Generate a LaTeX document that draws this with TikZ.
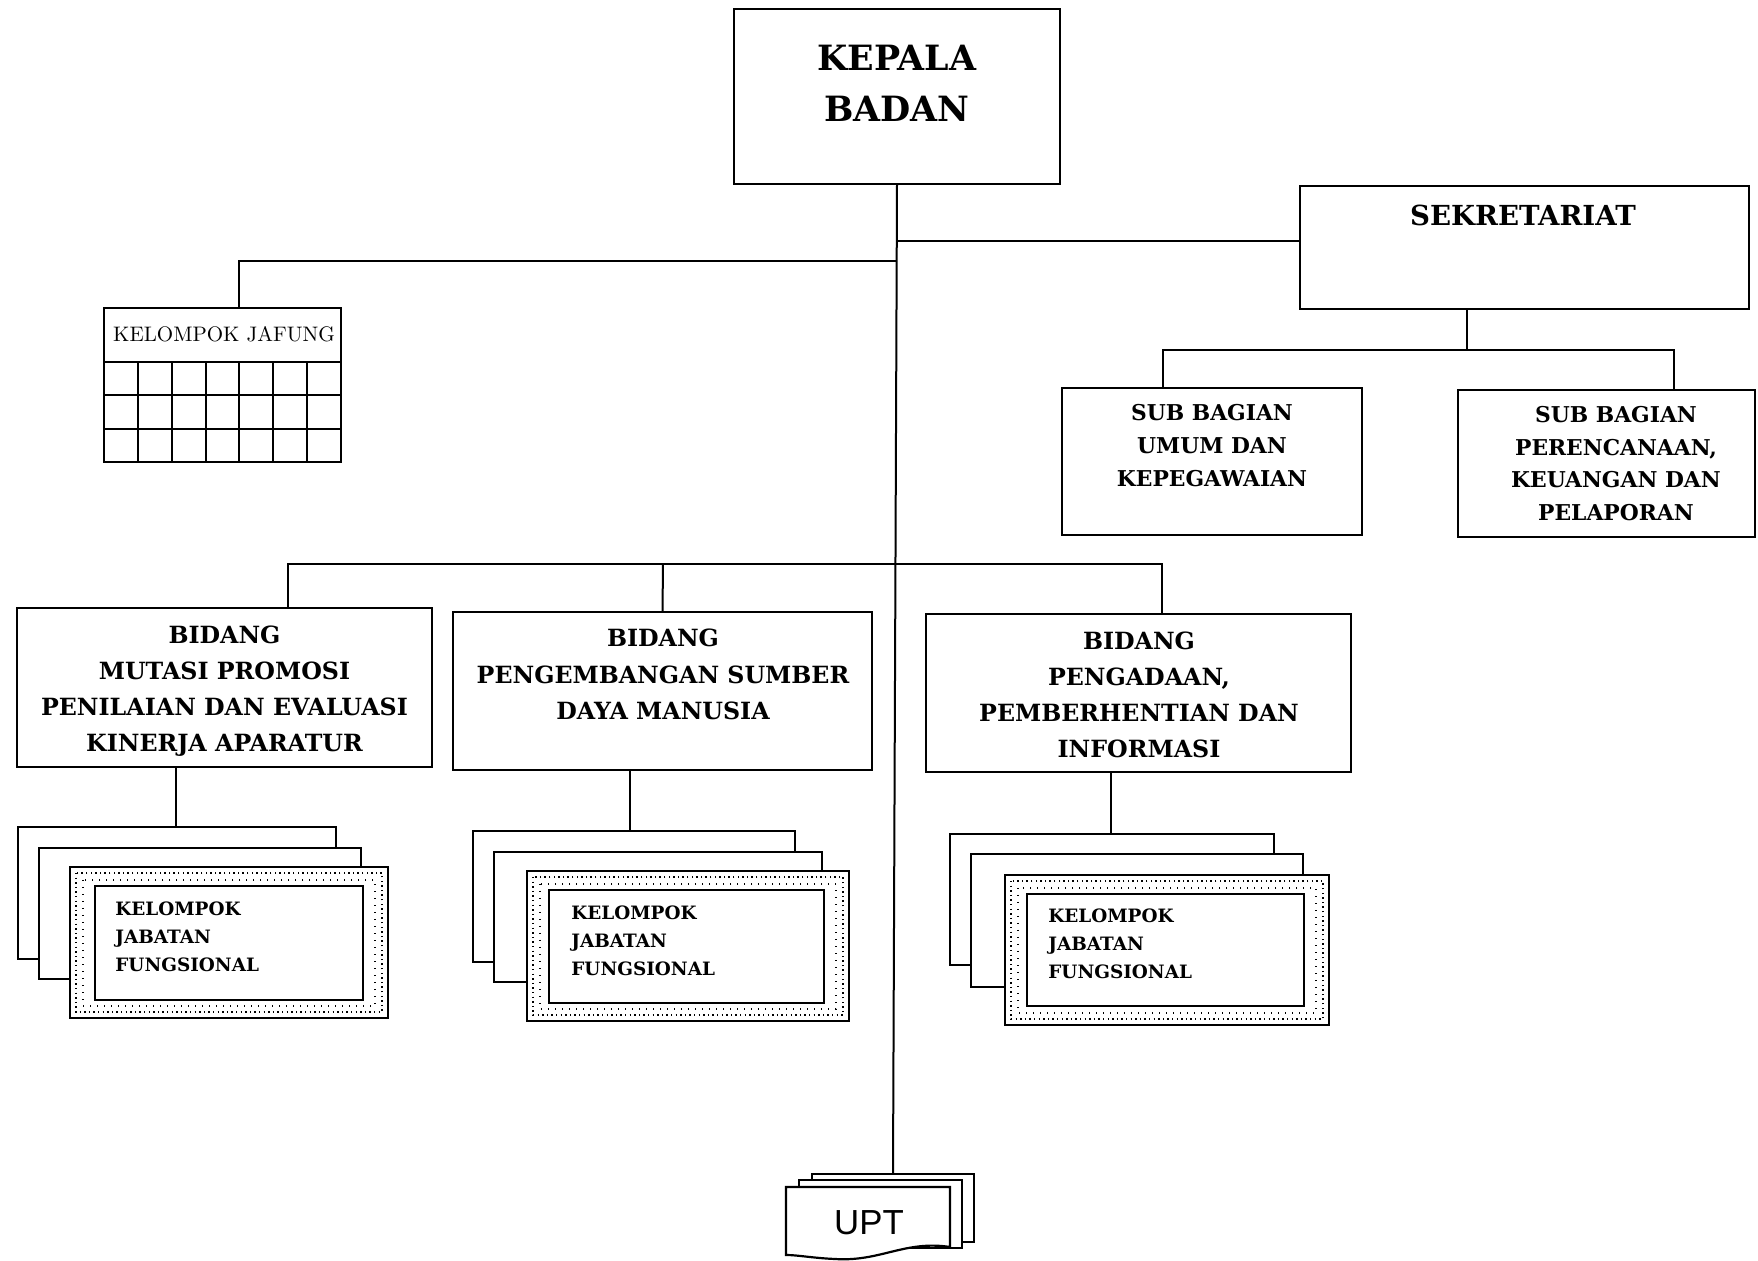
\documentclass[tikz,border=0pt]{standalone}
\usepackage{fontspec}
\newfontfamily\uptfont{Liberation Sans}
\newfontfamily\slabfont{DejaVu Serif}
\usetikzlibrary{calc}

% rectangle node from its corners: style, name, x1, y1, x2, y2
\newcommand\rectnode[6]{%
  \node[#1, minimum width={(#5-#3)*0.5pt}, minimum height={(#6-#4)*0.5pt}]
    (#2) at ({(#3+#5)/2},{(#4+#6)/2}) {};}

% heavy slab-serif lettering: size, baseline skip
\newcommand\heavy[2]{\fontsize{#1}{#2}\selectfont\slabfont\bfseries}

\tikzset{
  unit/.style={draw, line width=1.2pt, fill=white, inner sep=0pt, outer sep=0pt},
  sheet/.style={draw, line width=1.1pt, fill=white, inner sep=0pt, outer sep=0pt},
  inner/.style={draw, line width=1.1pt, inner sep=0pt, outer sep=0pt},
  link/.style={line width=1pt},
  stipple/.style={line width=0.7pt, dash pattern=on 0.7pt off 1.6pt},
  lbl/.style={align=center, inner sep=0pt},
  jflbl/.style={align=left, anchor=west, inner sep=0pt, font=\heavy{9.2}{14}},
}

\begin{document}
\begin{tikzpicture}[x=0.5pt, y=-0.5pt]
\useasboundingbox (0,0) rectangle (1758,1261);
\fill[white] (0,0) rectangle (1758,1261);

% ---------- head and secretariat ----------
\rectnode{unit}{kepala}{734}{9}{1060}{184}
\node[lbl, font=\heavy{17.4}{25.5}] (kepalatxt) at (897,83.5) {KEPALA\\BADAN};

\rectnode{unit}{sek}{1300}{186}{1749}{309}
\node[lbl, font=\heavy{13.8}{16}] (sektxt) at (1523,215) {SEKRETARIAT};

\rectnode{unit}{sub1}{1062}{388}{1362}{535}
\node[lbl, font=\heavy{10.9}{16.5}] (sub1txt) at (1212,446)
  {SUB BAGIAN\\UMUM DAN\\KEPEGAWAIAN};

\rectnode{unit}{sub2}{1458}{390}{1755}{537}
\node[lbl, font=\heavy{10.9}{16.2}] (sub2txt) at (1616,463.5)
  {SUB BAGIAN\\PERENCANAAN,\\KEUANGAN DAN\\PELAPORAN};

% ---------- functional group table ----------
\rectnode{unit}{jafung}{104}{308}{341}{462}
\node[lbl, font=\fontsize{10.5}{12}\selectfont] (jafungtxt) at (224,334) {KELOMPOK JAFUNG};
\foreach \j in {0,1,2}
  \draw[line width=1pt] ($(jafung.north west)+(0,{54+\j*33.33})$) -- ++(237,0);
\foreach \i in {1,...,6}
  \draw[line width=1pt] ($(jafung.north west)+({\i*237/7},54)$) -- ++(0,100);

% ---------- divisions ----------
\rectnode{unit}{bid1}{17}{608}{432}{767}
\node[lbl, font=\heavy{11.85}{18}] (bid1txt) at (224.5,691)
  {BIDANG\\MUTASI PROMOSI\\PENILAIAN DAN EVALUASI\\KINERJA APARATUR};

\rectnode{unit}{bid2}{453}{612}{872}{770}
\node[lbl, font=\heavy{11.85}{18.2}] (bid2txt) at (663,674.5)
  {BIDANG\\PENGEMBANGAN SUMBER\\DAYA MANUSIA};

\rectnode{unit}{bid3}{926}{614}{1351}{772}
\node[lbl, font=\heavy{11.85}{18}] (bid3txt) at (1139,695)
  {BIDANG\\PENGADAAN,\\PEMBERHENTIAN DAN\\INFORMASI};

% ---------- stacked functional position groups ----------
\newcommand\jfstack[2]{%
  \foreach \n/\x/\y/\X/\Y/\s in {#2} {
    \rectnode{\s}{#1\n}{\x}{\y}{\X}{\Y}
  }}

\jfstack{ka}{back/18/827/336/959/sheet, mid/39/848/361/979/sheet, front/70/867/388/1018/sheet, in/95/886/363/1000/inner}
\jfstack{kb}{back/473/831/795/962/sheet, mid/494/852/822/982/sheet, front/527/871/849/1021/sheet, in/549/890/824/1003/inner}
\jfstack{kc}{back/950/834/1274/965/sheet, mid/971/854/1303/987/sheet, front/1005/875/1329/1025/sheet, in/1027/894/1304/1006/inner}

\foreach \k in {ka,kb,kc} {
  \draw[stipple] ($(\k front.north west)+(6,6)$) rectangle ($(\k front.south east)+(-6,-6)$);
  \draw[stipple, dash pattern=on 0.5pt off 3pt] ($(\k front.north west)+(13,13)$) rectangle ($(\k front.south east)+(-13,-12)$);
}

\node[jflbl] (katxt) at (115,937) {KELOMPOK\\JABATAN\\FUNGSIONAL};
\node[jflbl] (kbtxt) at (571,941) {KELOMPOK\\JABATAN\\FUNGSIONAL};
\node[jflbl] (kctxt) at (1048,944) {KELOMPOK\\JABATAN\\FUNGSIONAL};

% ---------- technical units ----------
\rectnode{sheet}{uptback}{812}{1174}{974}{1242}
\rectnode{sheet}{uptmid}{799}{1180}{962}{1248}
\draw[line width=1.1pt, fill=white] (786,1187) -- (950,1187) -- (950,1247)
  .. controls (905,1240) and (880,1262) .. (835,1259)
  .. controls (812,1258) and (798,1255) .. (786,1255) -- cycle;
\node[inner sep=0pt, font=\fontsize{17.4}{20}\selectfont\uptfont] (upt) at (869,1223) {UPT};

% ---------- connectors ----------
\draw[link] (kepala.south) -- (uptback.north);

\coordinate (jsek) at (897,241);
\draw[link] (jsek) -- (jsek -| sek.west);

\coordinate (jjf) at (897,261);
\coordinate (jfin) at ($(jafung.north west)+(135,0)$);
\draw[link] (jjf) -| (jfin);

\coordinate (sdrop) at ($(sek.south west)+(167,0)$);
\coordinate (sbus) at (1467,350);
\coordinate (s1in) at ($(sub1.north west)+(101,0)$);
\coordinate (s2in) at ($(sub2.north west)+(216,0)$);
\draw[link] (sdrop) -- (sbus);
\draw[link] (s1in) |- (sbus) -| (s2in);

\coordinate (b1in) at ($(bid1.north west)+(271,0)$);
\coordinate (b3in) at ($(bid3.north west)+(236,0)$);
\coordinate (bbus) at (663,564);
\draw[link] (b1in) |- (bbus) -| (b3in);
\draw[link] (bbus) -- (bid2.north);

\coordinate (d1) at ($(bid1.south west)+(159,0)$);
\coordinate (d2) at ($(bid2.south west)+(177,0)$);
\coordinate (d3) at ($(bid3.south west)+(185,0)$);
\draw[link] (d1) -- (d1 |- kaback.north);
\draw[link] (d2) -- (d2 |- kbback.north);
\draw[link] (d3) -- (d3 |- kcback.north);
\end{tikzpicture}
\end{document}
